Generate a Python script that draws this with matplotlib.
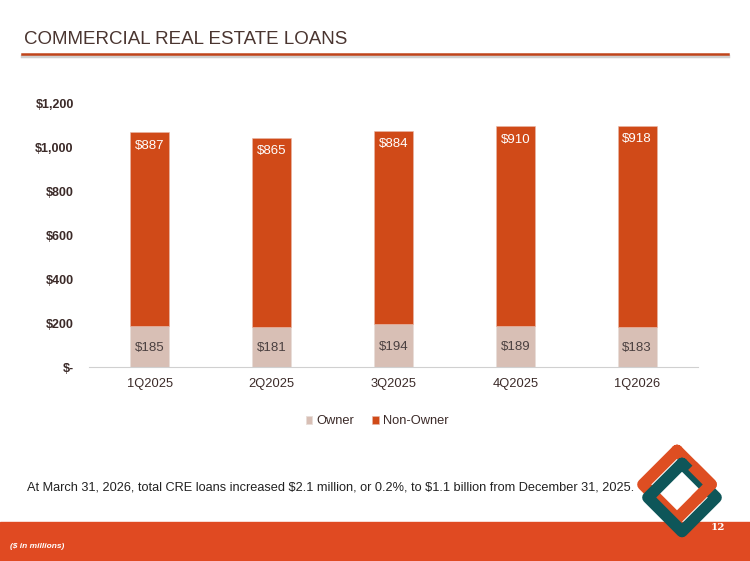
import numpy as np
import matplotlib
matplotlib.use('Agg')
import matplotlib.pyplot as plt
from matplotlib.patches import Rectangle
from matplotlib.lines import Line2D

plt.rcParams['font.family'] = ['Liberation Sans', 'DejaVu Sans']
plt.rcParams['text.parse_math'] = False

# data
quarters = ['1Q2025', '2Q2025', '3Q2025', '4Q2025', '1Q2026']
owner = [185, 181, 194, 189, 183]
non_owner = [887, 865, 884, 910, 918]
yticks = [0, 200, 400, 600, 800, 1000, 1200]
ytick_labels = ['$-', '$200', '$400', '$600', '$800', '$1,000', '$1,200']

c_owner = '#D8BFB5'
c_non = '#D04A18'
c_text = '#3B2A28'

fig = plt.figure(figsize=(7.5, 5.61), dpi=100)
W, H = 750, 561

def fx(px):
    return px / W

def fy(py):
    return 1 - py / H

# title and header rule
fig.text(fx(24), fy(39), 'COMMERCIAL REAL ESTATE LOANS', fontsize=13.5,
         color='#4A3530', va='center', ha='left')
fig.add_artist(Line2D([fx(22), fx(728)], [fy(56), fy(56)], color='#D0D0D0', lw=2.5))
fig.add_artist(Line2D([fx(22), fx(728)], [fy(54), fy(54)], color='#C0441A', lw=1.8))

# chart
ax = fig.add_axes([fx(89), fy(367), fx(698) - fx(89), fy(104) - fy(367)])
x = np.arange(len(quarters))
bw = 0.32
ax.bar(x, owner, bw, color=c_owner, label='Owner', edgecolor='#E8DDD8', lw=0.6)
ax.bar(x, non_owner, bw, bottom=owner, color=c_non, label='Non-Owner',
       edgecolor='#E8B8A8', lw=0.4)
for i in range(len(quarters)):
    ax.text(x[i], owner[i] / 2 - 5, '$%d' % owner[i], ha='center', va='center',
            fontsize=9.5, color='#4A4040')
    ax.text(x[i], owner[i] + non_owner[i] - 62, '$%d' % non_owner[i], ha='center',
            va='center', fontsize=9.5, color='white')

ax.set_xlim(-0.5, len(quarters) - 0.5)
ax.set_ylim(0, 1200)
ax.set_yticks(yticks)
ax.set_yticklabels(ytick_labels, fontsize=9, fontweight='bold', color=c_text)
ax.set_xticks(x)
ax.set_xticklabels(quarters, fontsize=9.3, color=c_text)
ax.tick_params(axis='both', length=0)
ax.tick_params(axis='y', pad=11)
ax.tick_params(axis='x', pad=8)
for s in ['top', 'right', 'left']:
    ax.spines[s].set_visible(False)
ax.spines['bottom'].set_color('#D0D0D0')
ax.set_facecolor('none')

leg = ax.legend(loc='upper center', bbox_to_anchor=(0.473, -0.14), ncol=2,
                frameon=False, fontsize=9.3, handlelength=0.5, handleheight=0.5,
                columnspacing=1.4, handletextpad=0.3)
for t in leg.get_texts():
    t.set_color(c_text)

# note
fig.text(fx(27), fy(487), 'At March 31, 2026, total CRE loans increased $2.1 million, or 0.2%, '
         'to $1.1 billion from December 31, 2025.', fontsize=9.15, color='#222222',
         va='center', ha='left')

# footer band
fig.add_artist(Rectangle((0, 0), fx(750), fy(522), transform=fig.transFigure,
                         color='#E04A22', zorder=1))
fig.text(fx(10), fy(546), '($ in millions)', fontsize=6, color='white',
         style='italic', fontweight='bold', va='center', zorder=3)
fig.text(fx(718), fy(528), '12', fontsize=7.5, color='white', family='DejaVu Serif',
         fontweight='bold', ha='center', va='center', zorder=3)

# logo: two interlocked rotated squares
def band(pts, color, zorder, cap='round'):
    fig.add_artist(Line2D([fx(p[0]) for p in pts], [fy(p[1]) for p in pts],
                          color=color, lw=8.4, solid_joinstyle='round',
                          solid_capstyle=cap, zorder=zorder))

def square(cx, cy, r):
    return [(cx, cy - r), (cx + r, cy), (cx, cy + r), (cx - r, cy), (cx, cy - r)]

r = 34
ox, oy = 677, 484.5
band(square(ox, oy, r), '#DE4E22', 4)
band(square(682, 497.5, r), '#0E5659', 5)
# orange passes over teal around its right corner
band([(ox + r * 0.45, oy - r * 0.55), (ox + r, oy), (ox + r * 0.55, oy + r * 0.45)],
     '#DE4E22', 6, cap='butt')

fig.savefig('out.png', dpi=100)
